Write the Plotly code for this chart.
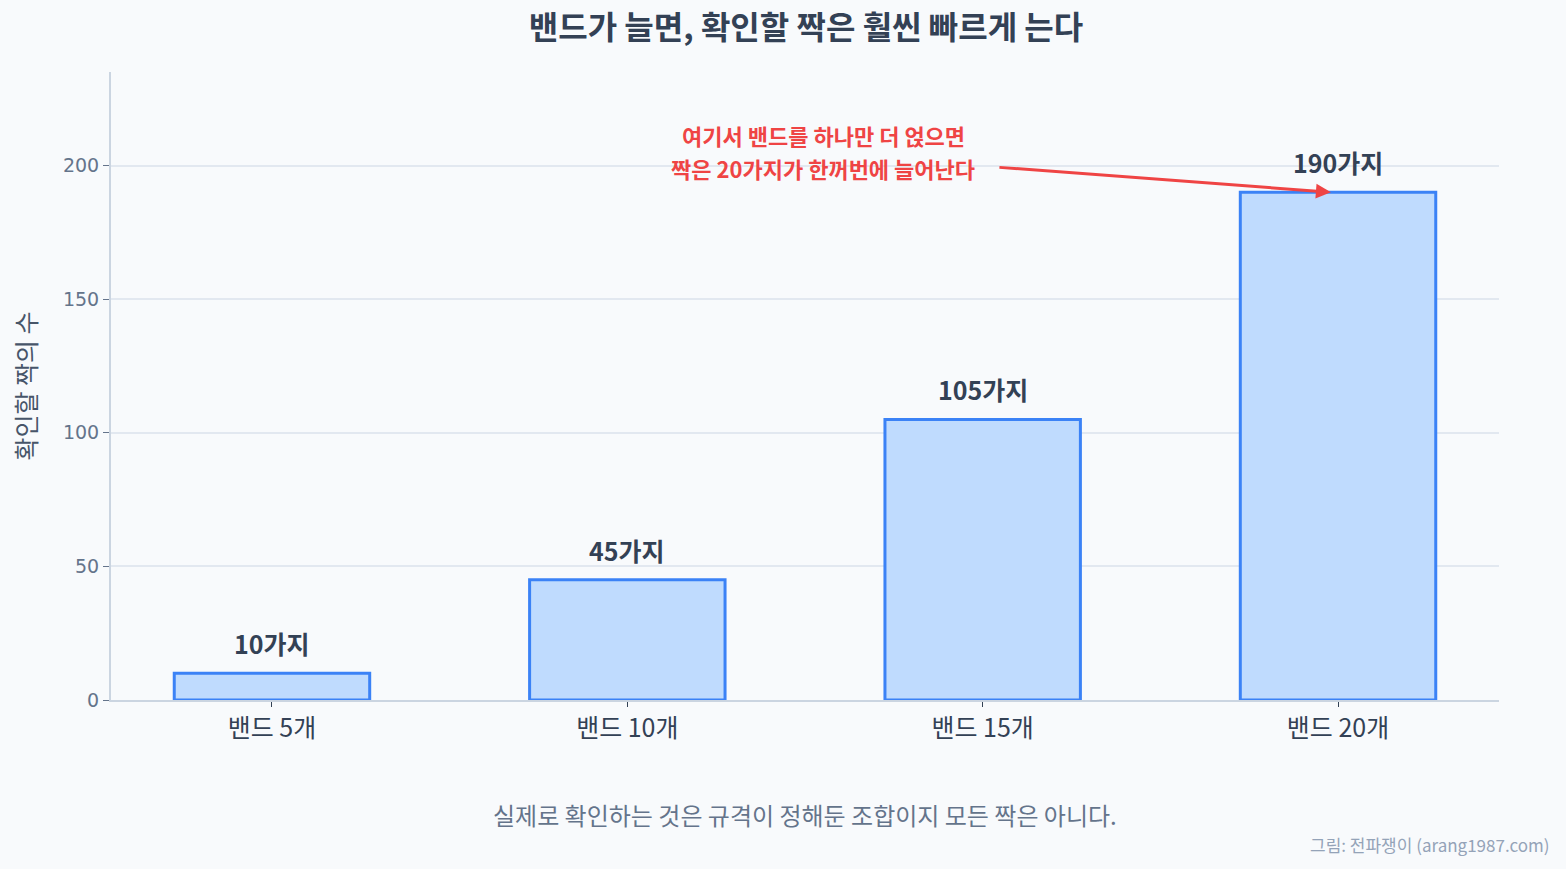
import plotly.graph_objects as go

# data
categories = ["밴드 5개", "밴드 10개", "밴드 15개", "밴드 20개"]
pairs = [10, 45, 105, 190]
pair_labels = ["10가지", "45가지", "105가지", "190가지"]

title_text = "밴드가 늘면, 확인할 짝은 훨씬 빠르게 는다"
y_title = "확인할 짝의 수"
note_lines = ["여기서 밴드를 하나만 더 얹으면", "짝은 20가지가 한꺼번에 늘어난다"]
caption = "실제로 확인하는 것은 규격이 정해둔 조합이지 모든 짝은 아니다."
credit = "그림: 전파쟁이 (arang1987.com)"

FONT = "Noto Sans CJK KR, sans-serif"
TICKFONT = "DejaVu Sans, sans-serif"
RED = "#EF4444"

fig = go.Figure(go.Bar(
    x=categories,
    y=pairs,
    width=0.55,
    marker=dict(color="#BFDBFE", line=dict(color="#3B82F6", width=3)),
    hoverinfo="skip",
))

# value labels above bars
for cat, val, lab in zip(categories, pairs, pair_labels):
    fig.add_annotation(x=cat, y=val, text="<b>%s</b>" % lab, showarrow=False,
                       yanchor="bottom", yshift=10,
                       font=dict(family=FONT, size=25, color="#334155"))

# red callout: two text lines left of the last bar, arrow pointing at its top
for line, dy in zip(note_lines, [57, 24]):
    fig.add_annotation(x=categories[-1], y=pairs[-1], text="<b>%s</b>" % line,
                       showarrow=False, xshift=-515, yshift=dy, borderpad=0,
                       font=dict(family=FONT, size=22, color=RED))
fig.add_annotation(x=2.98, y=pairs[-1], text="", showarrow=True, ax=-333, ay=-25,
                   arrowhead=2, arrowsize=1, arrowwidth=3, arrowcolor=RED)

fig.add_annotation(xref="paper", yref="paper", x=0.5, y=-0.1831, yanchor="middle",
                   text=caption, showarrow=False,
                   font=dict(family=FONT, size=24, color="#64748B"))
fig.add_annotation(xref="paper", yref="paper", x=1.0375, y=-0.2293, yanchor="middle",
                   xanchor="right", text=credit, showarrow=False,
                   font=dict(family=FONT, size=17, color="#94A3B8"))

fig.update_layout(
    width=1566, height=869,
    margin=dict(l=111, r=67, t=72, b=169),
    paper_bgcolor="#F8FAFC", plot_bgcolor="#F8FAFC",
    font=dict(family=FONT, color="#334155"),
    title=dict(text="<b>%s</b>" % title_text, x=0.5147, xanchor="center",
               y=0.9678, yanchor="middle",
               font=dict(family=FONT, size=32, color="#334155")),
    showlegend=False,
)
fig.update_xaxes(range=[-0.453, 3.453], showline=True, linecolor="#CBD5E1", linewidth=2,
                 ticks="outside", ticklen=5, tickcolor="#334155",
                 tickfont=dict(family=FONT, size=25, color="#334155"), showgrid=False)
fig.update_yaxes(range=[0, 235], dtick=50, showline=True, linecolor="#CBD5E1", linewidth=2,
                 ticks="outside", ticklen=6, tickcolor="#64748B",
                 gridcolor="#E2E8F0", gridwidth=1.5, zeroline=False,
                 tickfont=dict(family=TICKFONT, size=19, color="#64748B"),
                 title=dict(text=y_title, standoff=19,
                            font=dict(family=FONT, size=25, color="#475569")))

# drop the page's default body margin so the figure sits at the window corner
fig.write_html("out.html", config={"displayModeBar": False},
               post_script="document.body.style.margin='0';")
